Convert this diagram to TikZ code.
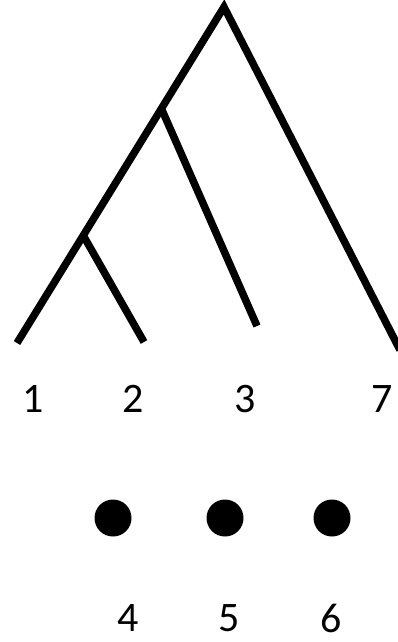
\documentclass[tikz,border=0pt]{standalone}
\usepackage{fontspec}
\setmainfont{Carlito}
\usetikzlibrary{calc}
\tikzset{
  branch/.style={line width=7.5pt, black},
  leaflabel/.style={font=\fontsize{42}{44}\selectfont, inner sep=0pt},
  taxon/.style={circle, fill=black, minimum size=37pt, inner sep=0pt}
}

\begin{document}
\begin{tikzpicture}[x=1pt, y=-1pt]
  \useasboundingbox (0,0) rectangle (397,642);
  % inner nodes of the tree
  \coordinate (root) at (224,7);
  \coordinate (n123) at (162,110);
  \coordinate (n12) at (83,235);
  % leaf ends
  \coordinate (l1) at (17,343);
  \coordinate (l2) at (144,342);
  \coordinate (l3) at (257,326);
  \coordinate (l7) at (400,350);
  \draw[branch, line join=miter] (l1) -- (root) -- (l7);
  \draw[branch] (n123) -- (l3);
  \draw[branch] (n12) -- (l2);
  % leaf labels
  \node[leaflabel] (t1) at (33,399) {1};
  \node[leaflabel] (t2) at (133,399) {2};
  \node[leaflabel] (t3) at (245,399) {3};
  \node[leaflabel] (t7) at (382,399) {7};
  % unplaced taxa
  \node[taxon] (d4) at (113,518) {};
  \node[taxon] (d5) at (225,518) {};
  \node[taxon] (d6) at (332,518) {};
  \node[leaflabel] (t4) at (128,618) {4};
  \node[leaflabel] (t5) at (229,618) {5};
  \node[leaflabel] (t6) at (331,618) {6};
\end{tikzpicture}
\end{document}
